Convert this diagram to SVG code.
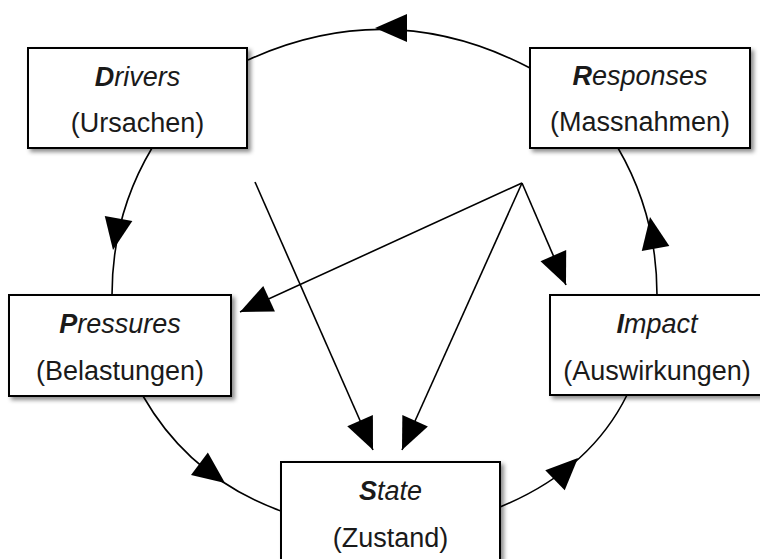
<svg xmlns="http://www.w3.org/2000/svg" xmlns:xlink="http://www.w3.org/1999/xlink" width="760" height="559" viewBox="0 0 760 559">
  <defs>
    <filter id="shadow" x="-10%" y="-10%" width="130%" height="130%">
      <feDropShadow dx="3" dy="3" stdDeviation="2" flood-color="#000" flood-opacity="0.45"/>
    </filter>
    <path id="ah" d="M0,0 L-32,-14 L-32,14 Z" fill="#000"/>
  </defs>
  <style>
    .box { fill: #fff; stroke: #000; stroke-width: 2; filter: url(#shadow); }
    .t { font-family: "Liberation Sans", Arial, sans-serif; font-size: 27px; fill: #1a1a1a; text-anchor: middle; }
    .ti { font-style: italic; }
    .b { font-weight: bold; }
    .c { fill: none; stroke: #000; stroke-width: 1.6; }
  </style>
  <rect width="760" height="559" fill="#fff"/>

  <g id="connectors">
    <!-- cycle arcs -->
    <path class="c" d="M530,68 Q390,-5 248,60"/>
    <path class="c" d="M152,148 Q112,215 112,295"/>
    <path class="c" d="M143,396 Q190,478 281,511"/>
    <path class="c" d="M500,507 Q590,470 627,395"/>
    <path class="c" d="M657,295 Q657,215 618,148"/>
    <!-- straight lines -->
    <path class="c" d="M255,182 L373,450"/>
    <path class="c" d="M522,183 L240,312"/>
    <path class="c" d="M522,183 L402,450"/>
    <path class="c" d="M522,183 L566,285"/>
    <!-- arrowheads -->
    <use xlink:href="#ah" transform="translate(375,28) rotate(180)"/>
    <use xlink:href="#ah" transform="translate(113,250) rotate(100)"/>
    <use xlink:href="#ah" transform="translate(225,483) rotate(37)"/>
    <use xlink:href="#ah" transform="translate(578,458) rotate(-44)"/>
    <use xlink:href="#ah" transform="translate(650,217) rotate(-100)"/>
    <use xlink:href="#ah" transform="translate(373,450) rotate(66.2)"/>
    <use xlink:href="#ah" transform="translate(240,312) rotate(155.4)"/>
    <use xlink:href="#ah" transform="translate(402,450) rotate(114.2)"/>
    <use xlink:href="#ah" transform="translate(566,285) rotate(66.7)"/>
  </g>

  <g id="drivers">
    <rect class="box" x="28" y="48" width="219" height="100"/>
    <text class="t ti" x="137.5" y="86"><tspan class="b">D</tspan>rivers</text>
    <text class="t" x="137.5" y="132">(Ursachen)</text>
  </g>

  <g id="responses">
    <rect class="box" x="530" y="48" width="220" height="100"/>
    <text class="t ti" x="640" y="85"><tspan class="b">R</tspan>esponses</text>
    <text class="t" x="640" y="131">(Massnahmen)</text>
  </g>

  <g id="pressures">
    <rect class="box" x="9" y="295" width="222" height="101"/>
    <text class="t ti" x="120" y="333"><tspan class="b">P</tspan>ressures</text>
    <text class="t" x="120" y="380">(Belastungen)</text>
  </g>

  <g id="impact">
    <rect class="box" x="550" y="295" width="215" height="100"/>
    <text class="t ti" x="657" y="333"><tspan class="b">I</tspan>mpact</text>
    <text class="t" x="657" y="380">(Auswirkungen)</text>
  </g>

  <g id="state">
    <rect class="box" x="281" y="462" width="219" height="110"/>
    <text class="t ti" x="390.5" y="500"><tspan class="b">S</tspan>tate</text>
    <text class="t" x="390.5" y="547">(Zustand)</text>
  </g>
</svg>
